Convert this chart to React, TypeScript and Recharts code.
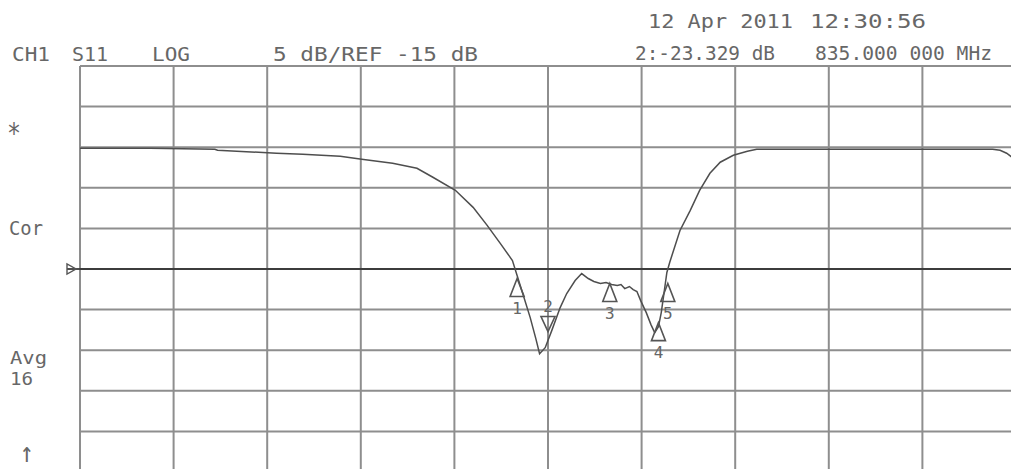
import React from 'react';
import { ComposedChart, Line, Scatter, XAxis, YAxis, CartesianGrid, ReferenceLine } from 'recharts';

// S11 trace, frequency in MHz and return loss in dB
const traceFreq = [
  785.0, 792.5, 799.4, 799.7, 806.0, 808.8, 812.8, 815.1, 818.4, 821.0, 822.7, 825.1, 827.0, 828.5,
  829.9, 831.2, 831.7, 832.3, 833.1, 833.7, 834.1, 834.7, 835.4, 836.3, 837.0, 837.9, 838.6, 839.3,
  839.9, 840.6, 841.2, 841.8, 842.4, 842.8, 843.2, 843.7, 844.1, 844.5, 844.9, 845.5, 846.0, 846.4,
  846.8, 847.1, 847.4, 847.7, 848.0, 849.1, 850.2, 851.2, 852.3, 853.4, 854.8, 856.3, 857.3, 882.5,
  883.3, 884.0, 885.0,
];
const traceDb = [
  -0.12, -0.12, -0.25, -0.37, -0.74, -0.86, -1.11, -1.48, -1.98, -2.59, -3.7, -5.31, -7.41, -9.63,
  -11.85, -13.95, -15.8, -18.02, -20.99, -23.58, -25.43, -24.69, -22.59, -19.75, -18.02, -16.42, -15.56, -16.17,
  -16.54, -16.79, -16.67, -16.91, -17.04, -16.91, -17.41, -17.16, -17.53, -17.78, -18.89, -20.37, -21.85, -22.84,
  -22.1, -20.37, -17.9, -15.43, -14.2, -10.25, -7.78, -5.31, -3.21, -1.85, -0.99, -0.49, -0.25, -0.25,
  -0.37, -0.74, -1.6,
];

// markers: number, frequency, level, symbol pointing up (true) or down
const markerIds = ['1', '2', '3', '4', '5'];
const markerFreq = [831.7, 835.0, 841.6, 846.8, 847.8];
const markerDb = [-16.17, -22.7, -16.79, -21.6, -16.79];
const markerUp = [true, false, true, true, true];

const freqTicks = [785, 795, 805, 815, 825, 835, 845, 855, 865, 875, 885];
const dbTicks = [10, 5, 0, -5, -10, -15, -20, -25, -30, -35, -40];
const refLevel = -15;

const trace = traceFreq.map((f, i) => ({ freq: f, db: traceDb[i] }));
const markers = markerIds.map((id, i) => ({ id, freq: markerFreq[i], db: markerDb[i], up: markerUp[i] }));

const INK = '#676767';
const FONT = '"DejaVu Sans Mono", "Liberation Mono", monospace';

const MarkerShape = (props: any) => {
  const { cx, cy, payload } = props;
  if (cx == null || cy == null) return null;
  if (payload.up) {
    return (
      <g>
        <polygon points={`${cx},${cy} ${cx - 7},${cy + 18} ${cx + 7},${cy + 18}`} fill="none" stroke="#555" strokeWidth={1.6} />
        <text x={cx} y={cy + 35} textAnchor="middle" fontFamily={FONT} fontSize={16} fill="#666">{payload.id}</text>
      </g>
    );
  }
  return (
    <g>
      <polygon points={`${cx - 7},${cy - 15} ${cx + 7},${cy - 15} ${cx},${cy}`} fill="none" stroke="#555" strokeWidth={1.6} />
      <text x={cx} y={cy - 20} textAnchor="middle" fontFamily={FONT} fontSize={16} fill="#666">{payload.id}</text>
    </g>
  );
};

const RefMarker = (props: any) => {
  const vb = props.viewBox;
  if (!vb) return null;
  const x = vb.x;
  const y = vb.y;
  return (
    <g>
      <line x1={x - 13} y1={y} x2={x} y2={y} stroke="#3c3c3c" strokeWidth={1.8} />
      <polygon points={`${x - 13},${y - 5} ${x - 13},${y + 5} ${x - 4},${y}`} fill="none" stroke="#555" strokeWidth={1.4} />
    </g>
  );
};

const T = ({ x, y, w, children, size = 19 }: any) => (
  <text x={x} y={y} fontFamily={FONT} fontSize={size} fill={INK} textLength={w} lengthAdjust="spacingAndGlyphs">
    {children}
  </text>
);

export default function App() {
  return (
    <div style={{ position: 'absolute', left: 0, top: 0, width: 1011, height: 469, overflow: 'hidden', background: '#fff' }}>
      <ComposedChart width={1030} height={480} margin={{ top: 66, right: 14, bottom: 8, left: 80 }}>
        <XAxis dataKey="freq" type="number" domain={[785, 885]} ticks={freqTicks} hide />
        <YAxis type="number" domain={[-40, 10]} ticks={dbTicks} hide />
        <CartesianGrid stroke="#8e8e8e" strokeWidth={2} />
        <ReferenceLine y={refLevel} stroke="#3c3c3c" strokeWidth={1.8} label={<RefMarker />} />
        <Line data={trace} dataKey="db" type="linear" stroke="#4e4e4e" strokeWidth={1.5} dot={false} isAnimationActive={false} />
        <Scatter data={markers} dataKey="db" shape={<MarkerShape />} isAnimationActive={false} />
      </ComposedChart>
      <svg width={1011} height={469} style={{ position: 'absolute', left: 0, top: 0, pointerEvents: 'none' }}>
        <T x={12} y={61} w={38}>CH1</T>
        <T x={72} y={61} w={36}>S11</T>
        <T x={152} y={61} w={38}>LOG</T>
        <T x={273} y={61} w={205}>5 dB/REF -15 dB</T>
        <T x={648} y={28} w={145}>12 Apr 2011</T>
        <T x={810} y={28} w={116}>12:30:56</T>
        <T x={635} y={60} w={140}>2:-23.329 dB</T>
        <T x={815} y={60} w={177}>835.000 000 MHz</T>
        <T x={7} y={143} w={14} size={28}>*</T>
        <T x={9} y={235} w={34}>Cor</T>
        <T x={10} y={364} w={37} size={18}>Avg</T>
        <T x={10} y={385} w={23} size={18}>16</T>
        <T x={20} y={462} w={14} size={28}>↑</T>
      </svg>
    </div>
  );
}
